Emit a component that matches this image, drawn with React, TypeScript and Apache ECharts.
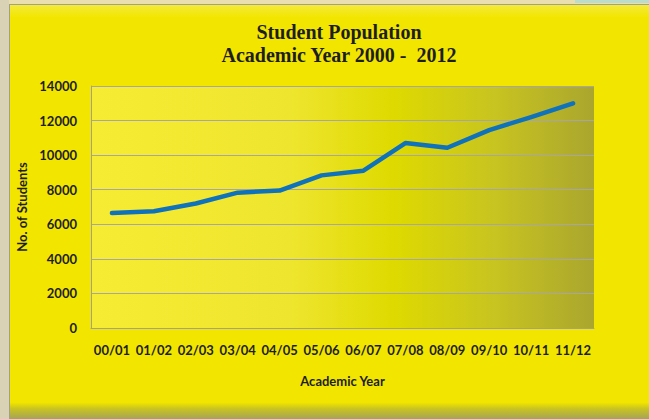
import React, { useEffect, useRef } from "react";
import * as echarts from "echarts";

const categories = ["00/01", "01/02", "02/03", "03/04", "04/05", "05/06", "06/07", "07/08", "08/09", "09/10", "10/11", "11/12"];
const students = [6650, 6750, 7200, 7830, 7950, 8830, 9100, 10700, 10430, 11450, 12200, 13000];
const titleLines = ["Student Population", "Academic Year 2000 -  2012"];
const yAxisName = "No. of Students";
const xAxisName = "Academic Year";

export default function App() {
  const ref = useRef<HTMLDivElement>(null);
  useEffect(() => {
    if (!ref.current) return;
    const chart = echarts.init(ref.current, null, { renderer: "svg" });
    const labelFont = { fontFamily: "Lato", fontWeight: "bold" as const, fontSize: 13, color: "#1E1E1E" };
    chart.setOption({
      animation: false,
      backgroundColor: "#E9DDB2",
      graphic: [
        { type: "rect", z: -10, shape: { x: 0, y: 0, width: 9, height: 419 }, style: { fill: "#D9D2B4" } },
        { type: "rect", z: -10, shape: { x: 575, y: 0, width: 74, height: 3 }, style: { fill: "#B9DCCB" } },
        { type: "rect", z: -9, shape: { x: 9, y: 4, width: 640, height: 415 }, style: { fill: "#A3A08A" } },
        { type: "rect", z: -8, shape: { x: 10, y: 5, width: 639, height: 414 }, style: { fill: new echarts.graphic.LinearGradient(0, 0, 0, 1, [
          { offset: 0, color: "#F4EA3A" },
          { offset: 0.03, color: "#F2E600" },
          { offset: 0.96, color: "#F2E600" },
          { offset: 0.975, color: "#C9C420" },
          { offset: 1, color: "#A6A35A" },
        ]) } },
      ],
      title: {
        text: titleLines.join("\n"),
        left: 334,
        top: 15,
        textAlign: "center",
        textStyle: { fontFamily: "Liberation Serif", fontWeight: "bold", fontSize: 20, lineHeight: 23, color: "#1E1E1E" },
      },
      grid: {
        left: 91,
        right: 55,
        top: 86,
        bottom: 91,
        show: true,
        borderWidth: 0,
        backgroundColor: new echarts.graphic.LinearGradient(0, 0, 1, 0, [
          { offset: 0, color: "#F7EC34" },
          { offset: 0.4, color: "#EEE52E" },
          { offset: 0.6, color: "#DEDA00" },
          { offset: 0.8, color: "#C8C420" },
          { offset: 1, color: "#AAA62E" },
        ]),
      },
      xAxis: {
        type: "category",
        data: categories,
        boundaryGap: true,
        axisLine: { lineStyle: { color: "#A0A0A0", width: 1 } },
        axisTick: { show: false },
        axisLabel: { ...labelFont, margin: 15, interval: 0 },
        name: xAxisName,
        nameLocation: "middle",
        nameGap: 46,
        nameTextStyle: { ...labelFont },
      },
      yAxis: {
        type: "value",
        min: 0,
        max: 14000,
        interval: 2000,
        axisLine: { show: true, lineStyle: { color: "#A0A0A0", width: 1 } },
        axisTick: { show: false },
        axisLabel: { ...labelFont, margin: 14, formatter: (v: number) => String(v) },
        splitLine: { lineStyle: { color: "#A6A6A6", width: 1 } },
        name: yAxisName,
        nameLocation: "middle",
        nameRotate: 90,
        nameGap: 58,
        nameTextStyle: { ...labelFont },
      },
      series: [
        {
          type: "line",
          data: students,
          symbol: "none",
          lineStyle: { color: "#0F72BA", width: 4.5, cap: "round", join: "round" },
        },
      ],
    });
    return () => chart.dispose();
  }, []);
  return <div ref={ref} style={{ position: "fixed", left: 0, top: 0, width: 649, height: 419 }} />;
}
